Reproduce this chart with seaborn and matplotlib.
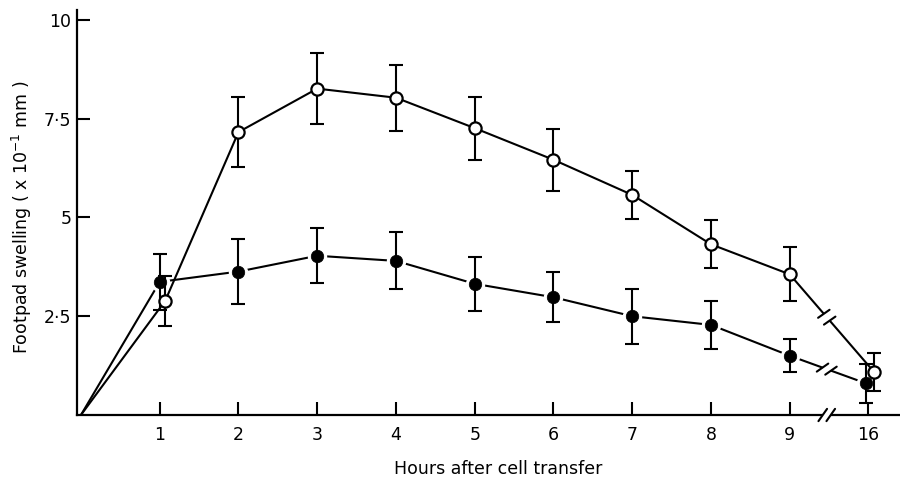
import numpy as np
import pandas as pd
import matplotlib
matplotlib.use("Agg")
import matplotlib.pyplot as plt
import seaborn as sns
from matplotlib.transforms import IdentityTransform

# ---------------- data ----------------
hours = [1, 2, 3, 4, 5, 6, 7, 8, 9, 16]
hour_labels = ["1", "2", "3", "4", "5", "6", "7", "8", "9", "16"]

open_mean = [2.89, 7.16, 8.26, 8.03, 7.26, 6.46, 5.57, 4.32, 3.56, 1.09]
open_err = [0.64, 0.89, 0.89, 0.84, 0.80, 0.78, 0.60, 0.61, 0.68, 0.48]

filled_mean = [3.37, 3.63, 4.03, 3.90, 3.32, 2.98, 2.50, 2.28, 1.50, 0.80]
filled_err = [0.70, 0.82, 0.70, 0.72, 0.69, 0.63, 0.70, 0.60, 0.42, 0.49]

y_ticks = [2.5, 5, 7.5, 10]
y_tick_labels = ["2·5", "5", "7·5", "10"]

x_label = "Hours after cell transfer"
y_label = r"Footpad swelling ( x 10$^{-1}$ mm )"

# ---------------- layout helpers ----------------
def hour_to_pos(h):
    # broken axis: 16 h drawn one step after 9 h
    return float(h) if h <= 9 else 10.0

pos = np.array([hour_to_pos(h) for h in hours])
open_nudge = np.array([0.07, 0, 0, 0, 0, 0, 0, 0, 0, 0.07])
filled_nudge = np.array([0, 0, 0, 0, 0, 0, 0, 0, 0, -0.03])
axis_break_pos = 9.47

sns.set_theme(style="ticks")
plt.rcParams["font.family"] = ["DejaVu Sans"]

W, H = 900, 478
fig = plt.figure(figsize=(W / 100, H / 100), dpi=100)
ax = fig.add_axes([77 / W, 1 - 415 / H, 823 / W, 405 / H])

LW = 1.5
ox = np.r_[0.0, pos + open_nudge]
oy = np.r_[0.0, np.array(open_mean)]
fx = np.r_[0.0, pos + filled_nudge]
fy = np.r_[0.0, np.array(filled_mean)]

df_lines = pd.DataFrame({
    "x": np.r_[ox, fx],
    "y": np.r_[oy, fy],
    "series": ["open"] * len(ox) + ["filled"] * len(fx),
})
sns.lineplot(data=df_lines, x="x", y="y", units="series", estimator=None,
             sort=False, color="black", linewidth=LW, ax=ax, zorder=2,
             legend=False)

# white halo around filled markers (gap in the line)
ax.plot(pos + filled_nudge, filled_mean, "o", ms=14.0, mfc="white",
        mec="none", zorder=3, clip_on=False)

# error bars
ax.errorbar(pos + filled_nudge, filled_mean, yerr=filled_err, fmt="none",
            ecolor="black", elinewidth=LW, capsize=5, capthick=LW, zorder=4,
            clip_on=False)
ax.errorbar(pos + open_nudge, open_mean, yerr=open_err, fmt="none",
            ecolor="black", elinewidth=LW, capsize=5, capthick=LW, zorder=4,
            clip_on=False)

# markers
ax.plot(pos + filled_nudge, filled_mean, "o", ms=9.0, mfc="black",
        mec="black", mew=0.5, zorder=5, clip_on=False)
ax.plot(pos + open_nudge, open_mean, "o", ms=8.8, mfc="white",
        mec="black", mew=1.6, zorder=6, clip_on=False)

# axes
ax.set_xlim(-0.05, 10.4)
ax.set_ylim(0, 10.25)
ax.set_xticks(pos)
ax.set_xticklabels(hour_labels)
ax.set_yticks(y_ticks)
ax.set_yticklabels(y_tick_labels)
sns.despine(ax=ax)
for s in ("left", "bottom"):
    ax.spines[s].set_linewidth(1.6)
    ax.spines[s].set_color("black")
ax.tick_params(axis="both", direction="in", length=9.5, width=1.5,
               colors="black", labelsize=12.5)
ax.tick_params(axis="x", pad=8)
ax.tick_params(axis="y", pad=4)
ax.grid(False)

ax.set_xlabel(x_label, fontsize=12.5, color="black")
ax.xaxis.set_label_coords((498 - 77) / 823, (415 - 469) / 405)
ax.xaxis.label.set_va("center")
ax.set_ylabel(y_label, fontsize=12.5, color="black")
ax.yaxis.set_label_coords((22 - 77) / 823, (415 - 217) / 405)
ax.yaxis.label.set_va("center")

# ---------------- break marks ----------------
fig.canvas.draw()
ident = IdentityTransform()


def draw_break(p, u, angle_deg, length, gap):
    u = np.asarray(u, float)
    u = u / np.hypot(*u)
    d = np.array([np.cos(np.radians(angle_deg)), np.sin(np.radians(angle_deg))])
    a = p - u * gap / 2
    b = p + u * gap / 2
    ax.plot([a[0], b[0]], [a[1], b[1]], color="white", lw=4.5,
            transform=ident, zorder=7, clip_on=False, solid_capstyle="butt")
    for c in (a, b):
        s0 = c - d * length / 2
        s1 = c + d * length / 2
        ax.plot([s0[0], s1[0]], [s0[1], s1[1]], color="black", lw=1.5,
                transform=ident, zorder=8, clip_on=False)


def line_break(xs, ys):
    p9 = ax.transData.transform((xs[-2], ys[-2]))
    p16 = ax.transData.transform((xs[-1], ys[-1]))
    pb_x = ax.transData.transform((axis_break_pos, 0))[0]
    t = (pb_x - p9[0]) / (p16[0] - p9[0])
    p = p9 + t * (p16 - p9)
    draw_break(p, p16 - p9, 35, 14, 9)


line_break(pos + open_nudge, open_mean)
line_break(pos + filled_nudge, filled_mean)
pa = ax.transData.transform((axis_break_pos, 0))
draw_break(pa, (1, 0), 55, 15, 8)

fig.savefig("out.png", dpi=100)
